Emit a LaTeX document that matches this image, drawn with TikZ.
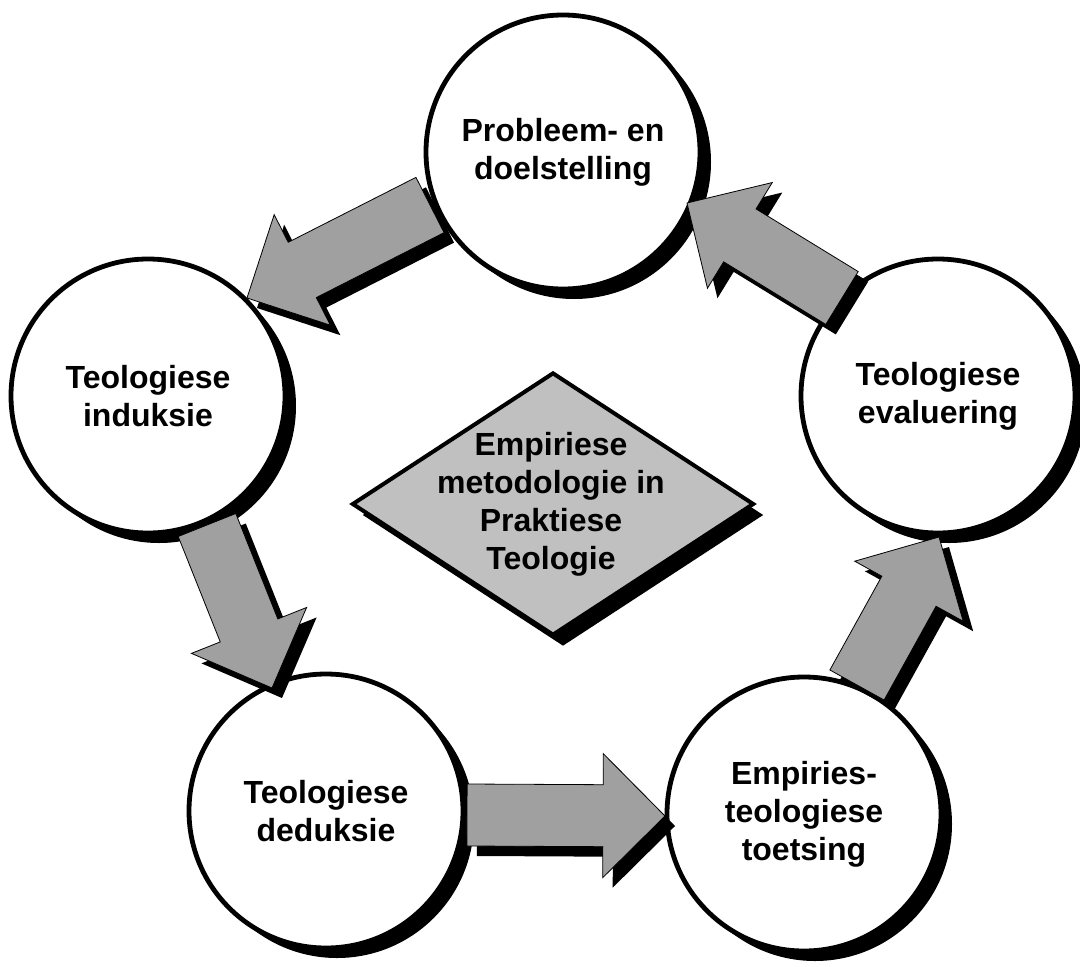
\documentclass[tikz,border=0pt]{standalone}
\usepackage{fontspec}
\setmainfont{Liberation Sans}
\usetikzlibrary{calc,shapes.geometric,shadows}
\definecolor{arrowgray}{HTML}{A0A0A0}
\definecolor{coregray}{HTML}{C0C0C0}
\tikzset{
  circshad/.style={drop shadow={shadow xshift=11pt,shadow yshift=-10pt,fill=black,opacity=1}},
  diashad/.style={drop shadow={shadow xshift=10pt,shadow yshift=-11pt,fill=black,opacity=1}},
  circ/.style={circle, draw=black, line width=4.8pt, fill=white, minimum size=274pt,
    inner sep=0pt, align=center, font=\fontsize{32}{38}\selectfont\bfseries, circshad},
  dia/.style={diamond, draw=black, line width=4pt, fill=coregray, minimum width=402pt,
    minimum height=263pt, inner sep=0pt, diashad},
  coretxt/.style={align=center, font=\fontsize{32}{38}\selectfont\bfseries, inner sep=0pt},
  arrowbody/.style={fill=arrowgray, draw=black, line width=0.8pt, line join=miter},
  arrowshadow/.style={fill=black, transform canvas={shift={(10pt,-10pt)}}},
}
\newcommand\blockarrow[2]{%
  \path ($(#2)!62pt!(#1)$) coordinate (hb);
  \path ($(#1)!31pt!90:(#2)$) coordinate (p1);
  \path ($(hb)!31pt!90:(#2)$) coordinate (p2);
  \path ($(hb)!62pt!90:(#2)$) coordinate (p3);
  \path ($(hb)!62pt!-90:(#2)$) coordinate (p4);
  \path ($(hb)!31pt!-90:(#2)$) coordinate (p5);
  \path ($(#1)!31pt!-90:(#2)$) coordinate (p6);
  \fill[arrowshadow] (p1)--(p2)--(p3)--(#2)--(p4)--(p5)--(p6)--cycle;
  \filldraw[arrowbody] (p1)--(p2)--(p3)--(#2)--(p4)--(p5)--(p6)--cycle;
}
\begin{document}
\begin{tikzpicture}[x=1pt,y=-1pt]
\useasboundingbox (0,0) rectangle (1080,967);
% circles
\node[circ] (probleem)  at (563,152) {Probleem- en\\doelstelling};
\node[circ] (induksie)  at (148,396) {Teologiese\\induksie};
\node[circ] (evaluering) at (938,396) {Teologiese\\evaluering};
\node[circ] (deduksie)  at (326,811) {Teologiese\\deduksie};
\node[circ] (toetsing)  at (804,814) {Empiries-\\teologiese\\toetsing};
% arrow end points
\coordinate (a1s) at (430,205); \coordinate (a1e) at (247,298);
\coordinate (a2s) at (207,525); \coordinate (a2e) at (272,688);
\coordinate (a3s) at (467,815); \coordinate (a3e) at (665,816);
\coordinate (a4s) at (857,685); \coordinate (a4e) at (939,537);
\coordinate (a5s) at (842,298); \coordinate (a5e) at (687,203);
\blockarrow{a1s}{a1e}
\blockarrow{a2s}{a2e}
\blockarrow{a3s}{a3e}
\blockarrow{a4s}{a4e}
\blockarrow{a5s}{a5e}
% centre diamond
\node[dia] (core) at (553,504) {};
\node[coretxt] (coretext) at (551,504) {Empiriese\\metodologie in\\Praktiese\\Teologie};
\end{tikzpicture}
\end{document}
